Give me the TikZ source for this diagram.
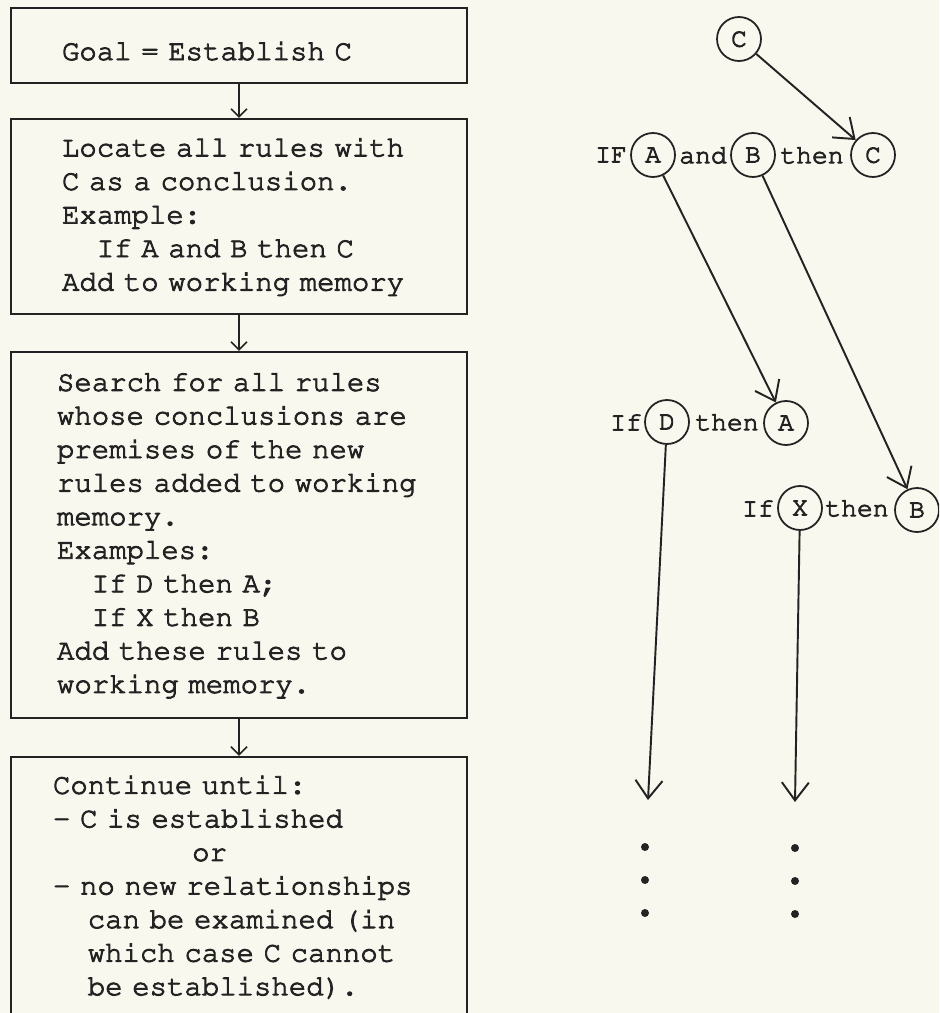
\documentclass[tikz,border=0pt]{standalone}
\usepackage[T1]{fontenc}
\usepackage{tikz}
\usetikzlibrary{arrows.meta,positioning}
\definecolor{paper}{RGB}{248,248,238}
\definecolor{ink}{RGB}{35,35,35}
\makeatletter
\newcommand\inked{\pgfsys@invoke{2 Tr 0.5 w}}
\makeatother
\newcommand\boxfont{\fontfamily{pcr}\fontsize{16.5pt}{19.1pt}\selectfont\inked}
\newcommand\wordfont{\fontfamily{pcr}\fontsize{15pt}{17pt}\selectfont\inked}
\tikzset{>={Straight Barb[length=1.6mm,width=3.2mm]}}
\tikzset{
  stepbox/.style={draw=ink, line width=1.1pt, rectangle, minimum width=91.2mm,
    inner xsep=0pt, inner ysep=0pt, align=left, font=\boxfont, text=ink},
  ball/.style={draw=ink, line width=1pt, circle, minimum size=8.8mm,
    inner sep=0pt, font=\wordfont, text=ink},
  word/.style={inner sep=0pt, font=\wordfont, text=ink},
  link/.style={-{Straight Barb[length=3.6mm,width=5.4mm]}, draw=ink, line width=1.1pt}
}

\begin{document}
\begin{tikzpicture}[x=0.2mm,y=-0.2mm]
    \fill[paper] (0,0) rectangle (939,1013);
    \clip (0,0) rectangle (939,1013);
    % left column: the steps
    \node[stepbox, minimum height=15mm, text width=70.8mm, text height=5.8mm, text depth=0mm] (goal) at (239,45.5)
        {Goal = Establish C};
    \node[stepbox, minimum height=39mm, text width=70.8mm, below=6.8mm of goal] (locate)
        {Locate all rules with\\
         C as a conclusion.\\
         Example:\\
         \phantom{xx}If A and B then C\\
         Add to working memory};
    \node[stepbox, minimum height=73.2mm, text width=72.8mm, below=7.2mm of locate] (search)
        {Search for all rules\\
         whose conclusions are\\
         premises of the new\\
         rules added to working\\
         memory.\\
         Examples:\\
         \phantom{xx}If D then A;\\
         \phantom{xx}If X then B\\
         Add these rules to\\
         working memory.};
    \node[stepbox, minimum height=52mm, text width=74.4mm, below=7.4mm of search] (cont)
        {Continue until:\\
         - C is established\\
         \phantom{xxxxxxxx}or\\
         - no new relationships\\
         \phantom{xx}can be examined (in\\
         \phantom{xx}which case C cannot\\
         \phantom{xx}be established).};
    \draw[->, draw=ink, line width=0.9pt] (goal) -- (locate);
    \draw[->, draw=ink, line width=0.9pt] (locate) -- (search);
    \draw[->, draw=ink, line width=0.9pt] (search) -- (cont);
    % right column: the rule chain
    \node[ball] (c0) at (739,39) {C};
    \node[ball] (a1) at (653,155) {A};
    \node[ball] (b1) at (753,155) {B};
    \node[ball] (c1) at (873,155) {C};
    \node[word] (if1) at (611,155) {IF};
    \node[word] (and1) at (703,155) {and};
    \node[word] (then1) at (812,155) {then};
    \node[ball] (d2) at (667,422) {D};
    \node[ball] (a2) at (786,423) {A};
    \node[word] (if2) at (626,422) {If};
    \node[word] (then2) at (727,422) {then};
    \node[ball] (x3) at (800,508) {X};
    \node[ball] (b3) at (917,510) {B};
    \node[word] (if3) at (758,508) {If};
    \node[word] (then3) at (857,508) {then};
    \coordinate (dend) at (648,800);
    \coordinate (xend) at (795,802);
    \draw[link] (c0) -- (c1);
    \draw[link] (a1) -- (a2);
    \draw[link] (b1) -- (b3);
    \draw[link] (d2) -- (dend);
    \draw[link] (x3) -- (xend);
    \foreach \y in {0,33,66} {
        \fill[ink] (645,847+\y) circle (0.8mm);
        \fill[ink] (795,848+\y) circle (0.8mm);
    }
\end{tikzpicture}
\end{document}
